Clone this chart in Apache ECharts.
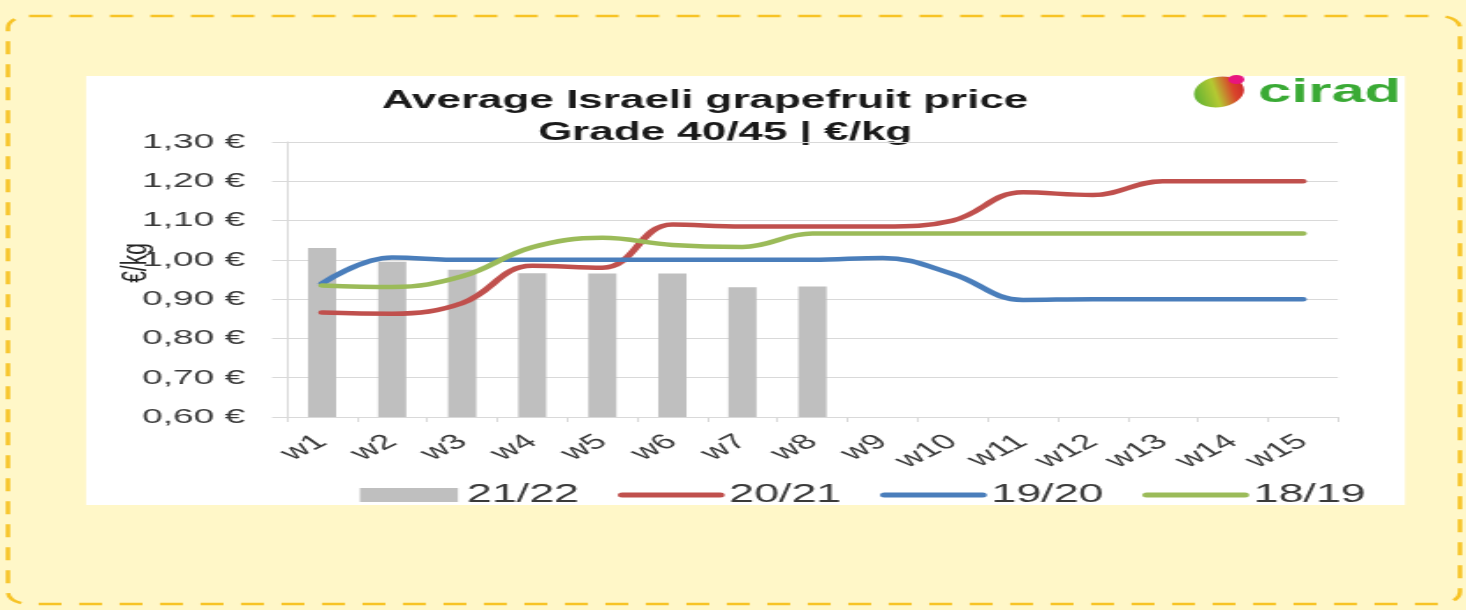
<!DOCTYPE html>
<html>
<head>
<meta charset="utf-8">
<script src="https://cdn.jsdelivr.net/npm/echarts@6/dist/echarts.min.js"></script>
<style>
  html, body { margin: 0; padding: 0; background: #fff7c8; overflow: hidden; }
  #chart { width: 833px; height: 610px; transform: scaleX(1.76); transform-origin: 0 0; }
</style>
</head>
<body>
<div id="chart"></div>
<script>
// ---- data ----
const weeks = ['w1','w2','w3','w4','w5','w6','w7','w8','w9','w10','w11','w12','w13','w14','w15'];
const yTickLabels = ['0,60 €','0,70 €','0,80 €','0,90 €','1,00 €','1,10 €','1,20 €','1,30 €'];
const seasonNames = ['21/22','20/21','19/20','18/19'];
const price2122 = [1.03, 0.995, 0.975, 0.966, 0.965, 0.965, 0.93, 0.932, null, null, null, null, null, null, null];
const price2021 = [0.866, 0.863, 0.89, 0.985, 0.98, 1.09, 1.085, 1.085, 1.085, 1.10, 1.172, 1.165, 1.20, 1.20, 1.20];
const price1920 = [0.94, 1.006, 1.0, 1.0, 1.0, 1.0, 1.0, 1.0, 1.005, 0.964, 0.898, 0.90, 0.90, 0.90, 0.90];
const price1819 = [0.935, 0.931, 0.958, 1.032, 1.056, 1.038, 1.033, 1.067, 1.067, 1.067, 1.067, 1.067, 1.067, 1.067, 1.067];

const chart = echarts.init(document.getElementById('chart'), null, { renderer: 'canvas' });
const FONT = '"Liberation Sans", Arial, sans-serif';
const lineColors = ['#c0504d', '#4a7ebb', '#9bbb59'];

function lineLegendItem(name, color) {
  return { name: name, itemStyle: { opacity: 0 }, lineStyle: { width: 5, color: color, cap: 'round', opacity: 1 } };
}

const option = {
  animation: false,
  backgroundColor: '#fff7c8',
  textStyle: { fontFamily: FONT },
  grid: { left: 163.1, right: 72.8, top: 142, bottom: 193 },
  legend: {
    left: 204.5, top: 482, padding: 0,
    itemWidth: 55.7, itemHeight: 14, itemGap: 22,
    textStyle: { fontSize: 25.5, color: '#3a3a3a', fontFamily: FONT },
    data: [
      { name: seasonNames[0], icon: 'rect' },
      lineLegendItem(seasonNames[1], lineColors[0]),
      lineLegendItem(seasonNames[2], lineColors[1]),
      lineLegendItem(seasonNames[3], lineColors[2])
    ]
  },
  xAxis: {
    type: 'category',
    data: weeks,
    boundaryGap: true,
    axisLine: { lineStyle: { color: '#d9d9d9', width: 1 } },
    axisTick: { show: true, length: 5, lineStyle: { color: '#d9d9d9' } },
    axisLabel: { interval: 0, rotate: 40, margin: 22, fontSize: 21, color: '#3a3a3a', fontFamily: FONT },
    splitLine: { show: false }
  },
  yAxis: {
    type: 'value',
    min: 0.6, max: 1.3, interval: 0.1,
    axisLine: { show: true, lineStyle: { color: '#d9d9d9', width: 1 } },
    axisTick: { show: true, length: 8.5, lineStyle: { color: '#d9d9d9' } },
    splitLine: { lineStyle: { color: '#d9d9d9', width: 1.2 } },
    axisLabel: {
      margin: 24, fontSize: 21, color: '#3a3a3a', fontFamily: FONT,
      formatter: function (v) { return yTickLabels[Math.round((v - 0.6) / 0.1)]; }
    }
  },
  series: [
    { name: seasonNames[0], type: 'bar', data: price2122, barWidth: 16, itemStyle: { color: '#bfbfbf' } },
    { name: seasonNames[1], type: 'line', data: price2021, smooth: 0.4, symbol: 'none',
      lineStyle: { width: 4.5, color: lineColors[0], cap: 'round' }, itemStyle: { color: lineColors[0] } },
    { name: seasonNames[2], type: 'line', data: price1920, smooth: 0.4, symbol: 'none',
      lineStyle: { width: 4.5, color: lineColors[1], cap: 'round' }, itemStyle: { color: lineColors[1] } },
    { name: seasonNames[3], type: 'line', data: price1819, smooth: 0.4, symbol: 'none',
      lineStyle: { width: 4.5, color: lineColors[2], cap: 'round' }, itemStyle: { color: lineColors[2] } }
  ],
  graphic: [
    { type: 'rect', z: -10, silent: true,
      shape: { x: 48.9, y: 76, width: 749.4, height: 429 },
      style: { fill: '#ffffff' } },
    { type: 'rect', z: -9, silent: true,
      shape: { x: 4.5, y: 16, width: 825, height: 588, r: 12 },
      style: { fill: 'transparent', stroke: '#f7c325', lineWidth: 2.5, lineDash: [13, 10] } },
    { type: 'text', x: 400.6, y: 101.5, silent: true,
      style: { text: 'Average Israeli grapefruit price', font: 'bold 25px ' + FONT, fill: '#1a1a1a',
               textAlign: 'center', textVerticalAlign: 'middle' } },
    { type: 'text', x: 412, y: 133, silent: true,
      style: { text: 'Grade 40/45 | €/kg', font: 'bold 25px ' + FONT, fill: '#1a1a1a',
               textAlign: 'center', textVerticalAlign: 'middle' } },
    { type: 'text', x: 77.3, y: 263, rotation: Math.PI / 2, silent: true,
      style: { text: '€/kg', font: '21px ' + FONT, fill: '#262626',
               textAlign: 'center', textVerticalAlign: 'middle' } },
    { type: 'circle', x: 692.6, y: 92, scaleX: 0.85, rotation: -0.5, silent: true,
      shape: { cx: 0, cy: 0, r: 16 },
      style: { fill: new echarts.graphic.LinearGradient(0, 1, 1, 0, [
        { offset: 0, color: '#3aa935' }, { offset: 0.45, color: '#b5c932' },
        { offset: 0.7, color: '#d9452b' }, { offset: 1, color: '#c8102e' }]) } },
    { type: 'circle', x: 702.5, y: 79.5, silent: true,
      shape: { cx: 0, cy: 0, r: 4.5 },
      style: { fill: '#e8157f' } },
    { type: 'text', x: 714.8, y: 93, silent: true,
      style: { text: 'cirad', font: 'bold 34px ' + FONT, fill: '#3aaa35',
               textAlign: 'left', textVerticalAlign: 'middle' } }
  ]
};
chart.setOption(option);
</script>
</body>
</html>
